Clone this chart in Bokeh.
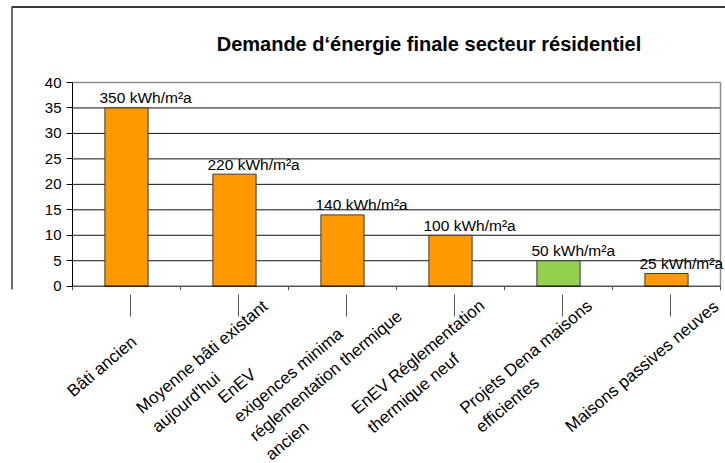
import math
from bokeh.plotting import figure
from bokeh.models import Range1d, LinearAxis, FixedTicker
from bokeh.core.properties import value
from bokeh.embed import file_html
from bokeh.resources import INLINE

# ---------------- data ----------------
TITLE = "Demande d‘énergie finale secteur résidentiel"
categories = [
    "Bâti ancien",
    "Moyenne bâti existant\naujourd'hui",
    "EnEV\nexigences minima\nréglementation thermique\nancien",
    "EnEV Réglementation\nthermique neuf",
    "Projets Dena maisons\nefficientes",
    "Maisons passives neuves",
]
values = [35, 22, 14, 10, 5, 2.5]
value_labels = ["350 kWh/m²a", "220 kWh/m²a", "140 kWh/m²a",
                "100 kWh/m²a", "50 kWh/m²a", "25 kWh/m²a"]
y_ticks = [0, 5, 10, 15, 20, 25, 30, 35, 40]
highlight_index = 4

# ---------------- layout ----------------
W, H = 725, 463
AX_LEFT, AX_RIGHT = 72, 720      # pixels
AX_TOP, AX_BOTTOM = 82, 285.7
n = len(categories)
y_max = y_ticks[-1]
px_cat = (AX_RIGHT - AX_LEFT) / n
px_unit = (AX_BOTTOM - AX_TOP) / y_max


def px_x(px):
    return (px - AX_LEFT) / px_cat


def px_y(py):
    return (AX_BOTTOM - py) / px_unit


FONT = value("Liberation Sans")
ORANGE, GREEN = "#FF9900", "#92D050"
colors = [GREEN if i == highlight_index else ORANGE for i in range(n)]
centers = [i + 0.5 for i in range(n)]
bounds_x = list(range(n + 1))

p = figure(width=W, height=H, output_backend="svg", toolbar_location=None,
           x_range=Range1d(px_x(0), px_x(W)), y_range=Range1d(px_y(H), px_y(0)),
           x_axis_type=None, y_axis_type=None, min_border=0)
p.outline_line_color = None
p.background_fill_color = "white"
p.border_fill_color = "white"

# outer frame (top and left edges)
p.segment(x0=[px_x(11.5)], x1=[px_x(W)], y0=[px_y(6.5)], y1=[px_y(6.5)],
          line_color="#3a3a3a", line_width=2)
p.segment(x0=[px_x(11.5)], x1=[px_x(11.5)], y0=[px_y(6)], y1=[px_y(289)],
          line_color="#3a3a3a", line_width=1.5)

# grid lines
grid_vals = y_ticks[1:-1]
p.segment(x0=[0] * len(grid_vals), x1=[n] * len(grid_vals), y0=grid_vals, y1=grid_vals,
          line_color="#111111", line_width=1)
# plot-area border top/right
p.segment(x0=[0, n], x1=[n, n], y0=[y_max, 0], y1=[y_max, y_max],
          line_color="#8c8c8c", line_width=1.5)

# bars
p.vbar(x=centers, top=values, width=0.4, bottom=0, fill_color=colors,
       line_color="#3a3a3a", line_width=1)

# value labels
p.text(x=centers, y=values, text=value_labels, x_offset=-27, y_offset=-10,
       text_align="left", text_baseline="alphabetic", text_font=FONT,
       text_font_size="15.5px", text_color="black")

# category axis: line + boundary ticks
p.segment(x0=[0], x1=[n], y0=[0], y1=[0], line_color="black", line_width=1)
p.segment(x0=bounds_x, x1=bounds_x, y0=[0] * (n + 1), y1=[px_y(AX_BOTTOM + 4)] * (n + 1),
          line_color="#555555", line_width=1)

# leader lines below axis
lo = 4 / px_cat
p.segment(x0=[c + lo for c in centers], x1=[c + lo for c in centers],
          y0=[px_y(294)] * n, y1=[px_y(316)] * n, line_color="#555555", line_width=1)

# category labels
p.text(x=centers, y=[px_y(366)] * n, text=categories, angle=math.radians(40),
       anchor="center", text_align="left", text_baseline="middle",
       x_offset=-24.5, text_font=FONT, text_font_size="17px",
       text_line_height=1.3, text_color="black")

# title
p.text(x=[px_x(428.5)], y=[px_y(43)], text=[TITLE], text_align="center",
       text_baseline="alphabetic", text_font=FONT, text_font_size="20px",
       text_font_style="bold", text_color="black")

# value axis
yax = LinearAxis(fixed_location=0, bounds=(0, y_max), ticker=FixedTicker(ticks=y_ticks),
                 major_tick_out=6, major_tick_in=0, minor_tick_out=0, minor_tick_in=0,
                 axis_line_color="black", major_tick_line_color="black",
                 major_label_text_font="Liberation Sans", major_label_text_font_size="15px",
                 major_label_text_color="black", major_label_standoff=5)
p.add_layout(yax, "left")

open("out.html", "w").write(file_html(p, INLINE))
